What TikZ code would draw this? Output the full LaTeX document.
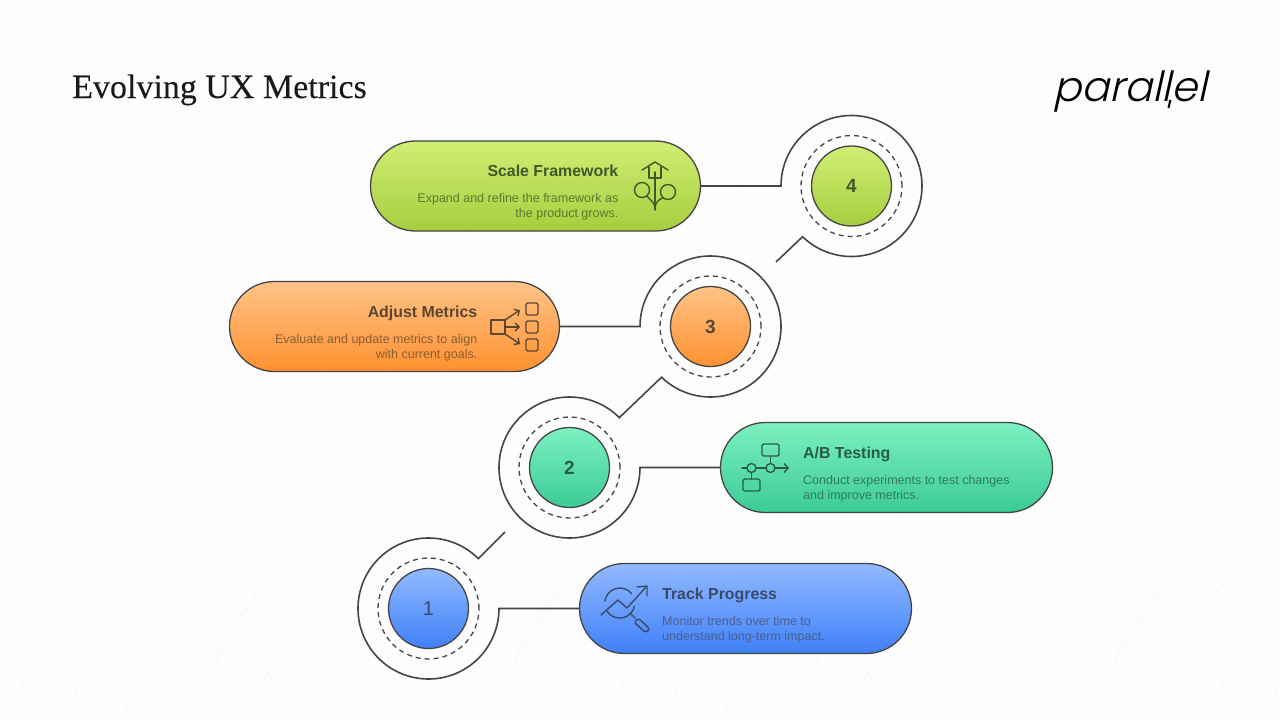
\documentclass[tikz,border=0pt]{standalone}
\usepackage{fontspec}
\usepackage{xcolor}
\usetikzlibrary{shapes.misc,arrows.meta}
\setmainfont{Liberation Sans}
\newfontfamily\headfont[FakeBold=0.12]{Liberation Serif}
\newfontfamily\logofont[FakeSlant=0.22]{Poppins Light}
\definecolor{paper}{HTML}{FDFDFD}
\definecolor{hatch}{HTML}{F7F7F9}
\definecolor{contour}{HTML}{FAFAFB}
\definecolor{ink}{HTML}{454545}
\definecolor{scaletop}{HTML}{D0EE74}
\definecolor{scalebot}{HTML}{A6CE3E}
\definecolor{scalehead}{HTML}{41582A}
\definecolor{scaletext}{HTML}{5A7A30}
\definecolor{adjusttop}{HTML}{FFC488}
\definecolor{adjustbot}{HTML}{FF9030}
\definecolor{adjusthead}{HTML}{5B4632}
\definecolor{adjusttext}{HTML}{8A5F30}
\definecolor{testtop}{HTML}{7CF0C0}
\definecolor{testbot}{HTML}{3CCB98}
\definecolor{testhead}{HTML}{2C5A48}
\definecolor{testtext}{HTML}{2F7A5E}
\definecolor{tracktop}{HTML}{92BAFF}
\definecolor{trackbot}{HTML}{3F80F8}
\definecolor{trackhead}{HTML}{3A4A6A}
\definecolor{tracktext}{HTML}{4A5F90}
\tikzset{
  pillbox/.style={draw=ink, line width=1.3pt, rounded rectangle, minimum width=332pt, minimum height=90pt, inner sep=0pt, outer sep=0pt},
  ringbox/.style={circle, minimum size=141pt, inner sep=0pt, outer sep=0pt},
  dashring/.style={draw=ink, line width=1.3pt, dashed, dash pattern=on 5pt off 4pt, circle, minimum size=101pt},
  numdisc/.style={draw=ink, line width=1.3pt, circle, minimum size=80pt, inner sep=0pt, font=\bfseries\fontsize{19}{19}\selectfont},
  link/.style={draw=ink, line width=1.6pt},
  headtext/.style={font=\bfseries\fontsize{15.9}{18}\selectfont, inner sep=0pt},
  bodytext/.style={font=\fontsize{12.5}{15}\selectfont, inner sep=0pt},
  icon/.style={line width=1.4pt, line join=round, line cap=round},
  scalefill/.style={top color=scaletop, bottom color=scalebot},
  adjustfill/.style={top color=adjusttop, bottom color=adjustbot},
  testfill/.style={top color=testtop, bottom color=testbot},
  trackfill/.style={top color=tracktop, bottom color=trackbot}
}
\begin{document}
\begin{tikzpicture}[x=1pt,y=1pt]
  \useasboundingbox (0,0) rectangle (1280,-720);
  \fill[paper] (0,0) rectangle (1280,-720);

  % Faint hatching behind everything
  \foreach \xa in {-420,-360,...,1300}
    \draw[hatch, line width=0.8pt] (\xa,-720) -- (\xa+430,0);
  % Faint contour lines at the bottom
  \foreach \xa in {20,70,...,1270}
    \draw[contour, line width=0.8pt] (\xa,-720) .. controls (\xa+25,-690) and (\xa-25,-670) .. (\xa+10,-630) .. controls (\xa+30,-600) and (\xa+40,-590) .. (\xa+80,-570);

  % Title and logo
  \node[font=\headfont\fontsize{34}{36}\selectfont, anchor=base west, inner sep=0pt, text=black!90] (title) at (72,-98) {Evolving UX Metrics};
  \node[font=\logofont\fontsize{41.5}{46}\selectfont, anchor=base west, inner sep=0pt] (logo) at (1053,-101) {parallel};
  \draw[black, line width=2pt] (1170.3,-100) -- (1168.5,-108);

  % Scale Framework pill
  \node[pillbox, scalefill, minimum width=330pt] (pill4) at (535.5,-186) {};
  \node[ringbox] (ring4) at (851.5,-186) {};
  \node[dashring] (dash4) at (851.5,-186) {};
  \node[numdisc, scalefill, text=scalehead] (num4) at (851.5,-186) {4};
  \node[headtext, anchor=base east, text=scalehead] (head4) at (618.5,-176.5) {Scale Framework};
  \node[bodytext, anchor=north east, align=right, text=scaletext] (body4) at (618.5,-193.5) {Expand and refine the framework as\\the product grows.};

  % Adjust Metrics pill
  \node[pillbox, adjustfill, minimum width=330pt] (pill3) at (394.5,-326.5) {};
  \node[ringbox] (ring3) at (710.5,-326.5) {};
  \node[dashring] (dash3) at (710.5,-326.5) {};
  \node[numdisc, adjustfill, text=adjusthead] (num3) at (710.5,-326.5) {3};
  \node[headtext, anchor=base east, text=adjusthead] (head3) at (477.5,-317.5) {Adjust Metrics};
  \node[bodytext, anchor=north east, align=right, text=adjusttext] (body3) at (477.5,-334.5) {Evaluate and update metrics to align\\with current goals.};

  % A/B Testing pill
  \node[pillbox, testfill] (pill2) at (886.5,-467.5) {};
  \node[ringbox] (ring2) at (569.5,-467.5) {};
  \node[dashring] (dash2) at (569.5,-467.5) {};
  \node[numdisc, testfill, text=testhead] (num2) at (569.5,-467.5) {2};
  \node[headtext, anchor=base west, text=testhead] (head2) at (803,-458.5) {A/B Testing};
  \node[bodytext, anchor=north west, align=left, text=testtext] (body2) at (803,-475.5) {Conduct experiments to test changes\\and improve metrics.};

  % Track Progress pill
  \node[pillbox, trackfill] (pill1) at (745.5,-608.5) {};
  \node[ringbox] (ring1) at (428.5,-608.5) {};
  \node[dashring] (dash1) at (428.5,-608.5) {};
  \node[numdisc, trackfill, text=trackhead, font=\fontsize{20}{20}\selectfont] (num1) at (428.5,-608.5) {1};
  \node[headtext, anchor=base west, text=trackhead] (head1) at (662,-599.5) {Track Progress};
  \node[bodytext, anchor=north west, align=left, text=tracktext] (body1) at (662,-616.5) {Monitor trends over time to\\understand long-term impact.};

  % Connectors
  \coordinate (tail4) at (776,-262);
  \coordinate (tail1) at (505,-532);
  \draw[link] (pill4.east) -- (ring4.west) arc[start angle=180, end angle=-134, radius=70.5pt] -- (tail4);
  \draw[link] (pill3.east) -- (ring3.west) arc[start angle=180, end angle=-134, radius=70.5pt] -- (ring2.45) arc[start angle=45, end angle=360, radius=70.5pt] -- (pill2.west);
  \draw[link] (tail1) -- (ring1.45) arc[start angle=45, end angle=360, radius=70.5pt] -- (pill1.west);

  % Icon: house and plant
  \begin{scope}[icon, draw=scalehead]
    \draw (642,-170) -- (655,-162) -- (668,-170);
    \draw (649,-167) -- (649,-178) -- (661,-178) -- (661,-167);
    \draw (655,-172) -- (655,-210);
    \draw (642,-190) circle[radius=7.5pt];
    \draw (668,-192) circle[radius=7.5pt];
    \draw (647,-196) .. controls (650,-200) and (654,-202) .. (655,-207);
    \draw (663,-198) .. controls (659,-199) and (656,-202) .. (655,-207);
  \end{scope}

  % Icon: one box to three boxes
  \begin{scope}[icon, draw=adjusthead]
    \draw (491,-320) rectangle (505,-334);
    \draw[-{Straight Barb[length=4pt,width=8pt]}] (505,-320) -- (520,-310);
    \draw[-{Straight Barb[length=4pt,width=8pt]}] (505,-327) -- (520,-327);
    \draw[-{Straight Barb[length=4pt,width=8pt]}] (505,-334) -- (520,-344);
    \draw[rounded corners=1.5pt] (526,-303) rectangle (538,-315);
    \draw[rounded corners=1.5pt] (526,-321) rectangle (538,-333);
    \draw[rounded corners=1.5pt] (526,-339) rectangle (538,-351);
  \end{scope}

  % Icon: flow with two branches
  \begin{scope}[icon, draw=testhead]
    \draw[rounded corners=1.5pt] (762,-444) rectangle (779,-456);
    \draw[rounded corners=1.5pt] (743,-479) rectangle (760,-491);
    \draw (770.5,-456) -- (770.5,-463);
    \draw (751.5,-472.5) -- (751.5,-479);
    \draw (751.5,-468) circle[radius=4.5pt];
    \draw (770.5,-468) circle[radius=4.5pt];
    \draw (742,-468) -- (747,-468);
    \draw (756,-468) -- (766,-468);
    \draw[-{Straight Barb[length=4pt,width=9pt]}] (775,-468) -- (789,-468);
  \end{scope}

  % Icon: trend under a magnifier
  \begin{scope}[icon, draw=trackhead]
    \draw (605,-601) arc[start angle=172, end angle=38, radius=15pt];
    \draw (607,-611) arc[start angle=212, end angle=348, radius=15pt];
    \draw (601,-615) -- (618,-600) -- (627,-608) -- (646,-587);
    \draw (637,-587) -- (647,-586) -- (647,-596);
    \draw (630,-613) -- (635,-618);
    \draw[rounded corners=3pt] (634,-622) -- (638,-618) -- (650,-629) -- (646,-633) -- cycle;
  \end{scope}
\end{tikzpicture}
\end{document}
